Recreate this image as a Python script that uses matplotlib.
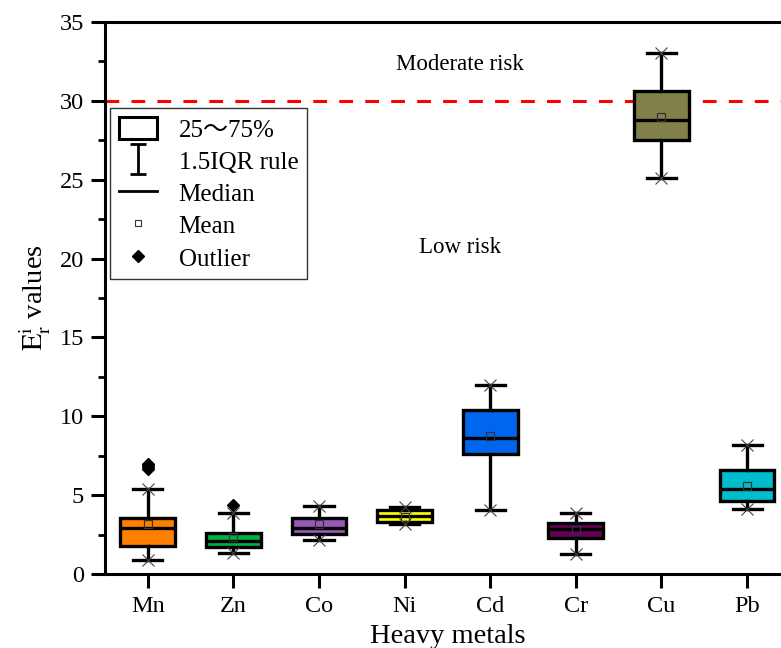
import matplotlib.pyplot as plt
from matplotlib.lines import Line2D
from matplotlib.patches import Patch
from matplotlib.path import Path
from matplotlib.ticker import MultipleLocator

plt.rcParams['font.family'] = ['Liberation Serif', 'DejaVu Serif']
plt.rcParams['mathtext.fontset'] = 'stix'

# box statistics
metals = ['Mn', 'Zn', 'Co', 'Ni', 'Cd', 'Cr', 'Cu', 'Pb']
whislo = [0.90, 1.35, 2.14, 3.17, 4.06, 1.29, 25.1, 4.10]
q1 = [1.78, 1.73, 2.54, 3.32, 7.59, 2.30, 27.5, 4.65]
med = [2.94, 2.09, 2.94, 3.70, 8.65, 2.85, 28.8, 5.39]
q3 = [3.53, 2.62, 3.53, 4.06, 10.40, 3.25, 30.6, 6.59]
whishi = [5.37, 3.85, 4.31, 4.27, 11.96, 3.85, 33.0, 8.16]
means = [3.17, 2.37, 3.17, 3.63, 8.77, 2.79, 29.0, 5.60]
outliers = [[6.65, 6.8, 6.9, 7.0], [4.37], [], [], [], [], [], []]
colors = ['#FF8000', '#00B040', '#9B59B6', '#FFFF00', '#0066EE', '#660055', '#808048', '#00BCCC']
threshold = 30

stats = []
for i, m in enumerate(metals):
    stats.append(dict(label=m, whislo=whislo[i], q1=q1[i], med=med[i], q3=q3[i],
                      whishi=whishi[i], mean=means[i], fliers=outliers[i]))

fig = plt.figure(figsize=(7.81, 6.48), dpi=100)
ax = fig.add_axes([0.1344, 0.1142, 0.877, 0.852])

pos = list(range(1, len(metals) + 1))
lw = 2.4
bp = ax.bxp(stats, positions=pos, widths=0.64, patch_artist=True, showmeans=True,
            boxprops=dict(linewidth=lw, edgecolor='black'),
            medianprops=dict(color='black', linewidth=lw),
            whiskerprops=dict(color='black', linewidth=lw),
            capprops=dict(color='black', linewidth=lw),
            capwidths=0.34,
            meanprops=dict(marker='s', markerfacecolor='none', markeredgecolor='#333333',
                           markersize=6, markeredgewidth=0.9),
            flierprops=dict(marker='D', markerfacecolor='black', markeredgecolor='black',
                            markersize=6), zorder=3)
for patch, c in zip(bp['boxes'], colors):
    patch.set_facecolor(c)

# whisker end markers
ax.plot(pos, whislo, 'x', color='#444444', markersize=8, markeredgewidth=0.8, zorder=4)
ax.plot(pos, whishi, 'x', color='#444444', markersize=8, markeredgewidth=0.8, zorder=4)

ax.axhline(threshold, color='red', linestyle=(0, (4.5, 4)), linewidth=2.2, zorder=2)
ax.text(4.65, 32.3, 'Moderate risk', ha='center', va='center', fontsize=16.5)
ax.text(4.65, 20.7, 'Low risk', ha='center', va='center', fontsize=16.5)

ax.set_xlim(0.5, 8.5)
ax.set_ylim(0, 35)
ax.set_xticks(pos)
ax.set_xticklabels(metals)
ax.yaxis.set_major_locator(MultipleLocator(5))
ax.yaxis.set_minor_locator(MultipleLocator(2.5))
ax.tick_params(axis='both', which='major', direction='out', length=10, width=2.2, labelsize=17.5)
ax.tick_params(axis='x', which='major', pad=6)
ax.tick_params(axis='y', which='major', pad=5)
ax.tick_params(axis='y', which='minor', direction='out', length=5, width=2)
ax.tick_params(axis='x', which='minor', bottom=False)
for s in ax.spines.values():
    s.set_linewidth(2.2)

ax.set_xlabel('Heavy metals', fontsize=20.5, labelpad=5)
ax.set_ylabel(r'$\mathrm{E_r^i}$ values', fontsize=20.5, labelpad=5)

# legend with an I-shaped whisker symbol
ibar = Path([(-0.5, 1), (0.5, 1), (0, 1), (0, -1), (-0.5, -1), (0.5, -1)],
            [Path.MOVETO, Path.LINETO, Path.MOVETO, Path.LINETO, Path.MOVETO, Path.LINETO])
handles = [
    Patch(facecolor='white', edgecolor='black', linewidth=2.2),
    Line2D([], [], marker=ibar, linestyle='none', color='black', markersize=22, markeredgewidth=2),
    Line2D([], [], color='black', linewidth=2),
    Line2D([], [], marker='s', linestyle='none', markerfacecolor='none',
           markeredgecolor='#333333', markersize=5, markeredgewidth=0.8),
    Line2D([], [], marker='D', linestyle='none', color='black', markersize=6),
]
labels = ['25～75%', '1.5IQR rule', 'Median', 'Mean', 'Outlier']
leg = ax.legend(handles, labels, loc='upper left', bbox_to_anchor=(0.007, 0.844),
                borderaxespad=0, frameon=True, fancybox=False, edgecolor='black',
                handlelength=1.55, handleheight=1.0, labelspacing=0.3, borderpad=0.35,
                handletextpad=0.85, prop={'family': ['Liberation Serif', 'Noto Sans CJK SC'], 'size': 18})
leg.get_frame().set_linewidth(1)

fig.savefig('out.png', dpi=100, facecolor='white')
